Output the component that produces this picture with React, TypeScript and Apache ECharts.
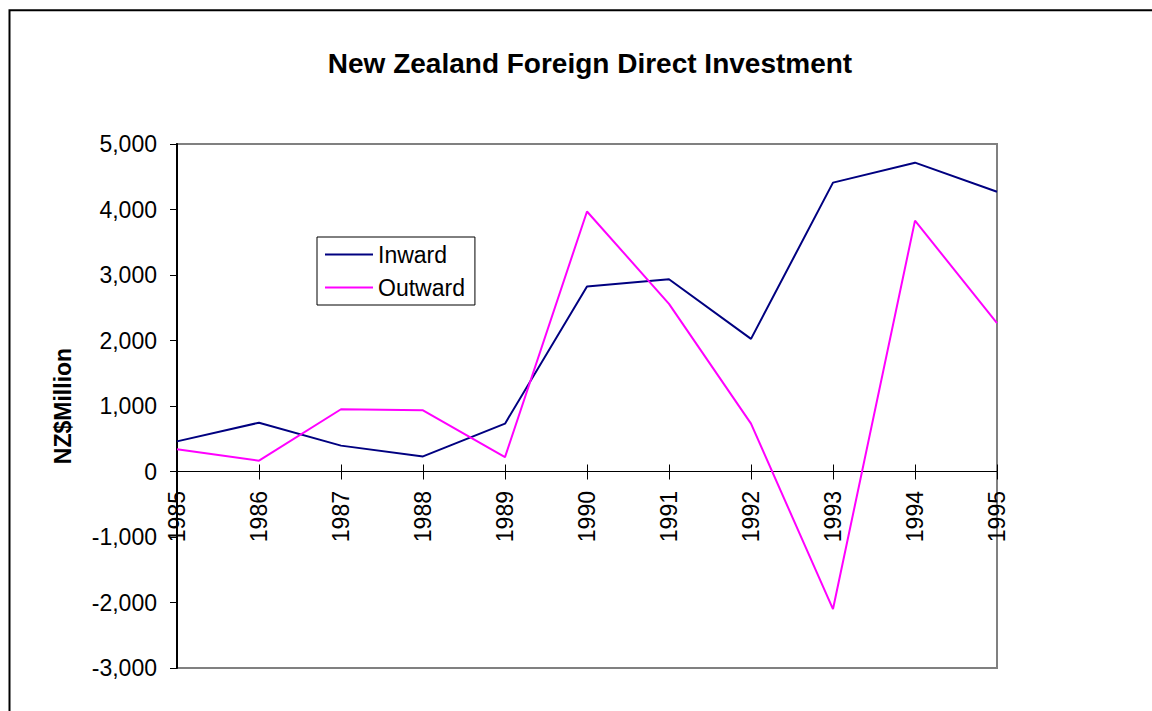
import React, { useEffect, useRef } from "react";
import * as echarts from "echarts";

const years = ["1985", "1986", "1987", "1988", "1989", "1990", "1991", "1992", "1993", "1994", "1995"];
const inward = [460, 745, 395, 230, 730, 2825, 2935, 2025, 4410, 4715, 4270];
const outward = [340, 165, 950, 935, 220, 3970, 2560, 730, -2100, 3830, 2265];
const yMin = -3000;
const yMax = 5000;
const yStep = 1000;

export default function App() {
  const ref = useRef<HTMLDivElement>(null);
  useEffect(() => {
    document.body.style.margin = "0";
    const chart = echarts.init(ref.current!, null, { renderer: "svg" });
    const font = "Liberation Sans, Arial, sans-serif";
    chart.setOption({
      animation: false,
      backgroundColor: "#ffffff",
      textStyle: { fontFamily: font },
      title: {
        text: "New Zealand Foreign Direct Investment",
        left: 585,
        textAlign: "center",
        top: 44,
        textStyle: { fontSize: 28, fontWeight: "bold", color: "#000", fontFamily: font },
      },
      graphic: [
        {
          type: "rect",
          shape: { x: 9.5, y: 10.2, width: 1300, height: 900 },
          style: { fill: "none", stroke: "#000", lineWidth: 2 },
          silent: true,
        },
      ],
      legend: {
        left: 317,
        top: 237,
        orient: "vertical",
        padding: [6, 10, 6, 8],
        itemGap: 10,
        itemWidth: 48,
        itemHeight: 12,
        borderColor: "#000",
        borderWidth: 1,
        icon: "path://M0,5 L48,5 L48,7 L0,7 Z",
        textStyle: { fontSize: 23, color: "#000", fontFamily: font },
        data: ["Inward", "Outward"],
      },
      grid: {
        left: 177,
        right: 155,
        top: 144,
        bottom: 43,
        show: true,
        borderColor: "#808080",
        borderWidth: 2,
        containLabel: false,
        outerBoundsMode: "none",
      },
      xAxis: [
        {
          type: "category",
          data: years,
          boundaryGap: false,
          position: "bottom",
          axisLine: { onZero: true, onZeroAxisIndex: 0, lineStyle: { color: "#000", width: 1 } },
          axisTick: { show: true, inside: true, length: 7, lineStyle: { color: "#000" } },
          axisLabel: { rotate: 90, fontSize: 23, color: "#000", margin: -177, fontFamily: font },
          splitLine: { show: false },
        },
        {
          type: "category",
          data: years,
          boundaryGap: false,
          position: "bottom",
          axisLine: { show: false, onZero: true, onZeroAxisIndex: 1 },
          axisTick: { show: true, length: 8, lineStyle: { color: "#000" } },
          axisLabel: { show: false },
          splitLine: { show: false },
        },
      ],
      yAxis: [
        {
          type: "value",
          min: yMin,
          max: yMax,
          interval: yStep,
          name: "NZ$Million",
          nameLocation: "middle",
          nameGap: 103,
          nameTextStyle: { fontSize: 23, fontWeight: "bold", color: "#000", fontFamily: font },
          axisLine: { show: true, lineStyle: { color: "#000", width: 2 } },
          axisTick: { show: true, length: 7, lineStyle: { color: "#000" } },
          axisLabel: {
            fontSize: 23,
            color: "#000",
            margin: 20,
            fontFamily: font,
            formatter: (v: number) => v.toLocaleString("en-US"),
          },
          splitLine: { show: false },
        },
        {
          type: "value",
          min: yMin,
          max: yMax,
          interval: yStep,
          position: "right",
          axisLine: { show: false },
          axisTick: { show: false },
          axisLabel: { show: false },
          splitLine: { show: false },
        },
      ],
      series: [
        {
          name: "Inward",
          type: "line",
          data: inward,
          symbol: "none",
          color: "#000080",
          lineStyle: { color: "#000080", width: 2 },
        },
        {
          name: "Outward",
          type: "line",
          data: outward,
          symbol: "none",
          color: "#FF00FF",
          lineStyle: { color: "#FF00FF", width: 2 },
        },
      ],
    });
    return () => chart.dispose();
  }, []);
  return <div ref={ref} style={{ width: 1152, height: 711 }} />;
}
